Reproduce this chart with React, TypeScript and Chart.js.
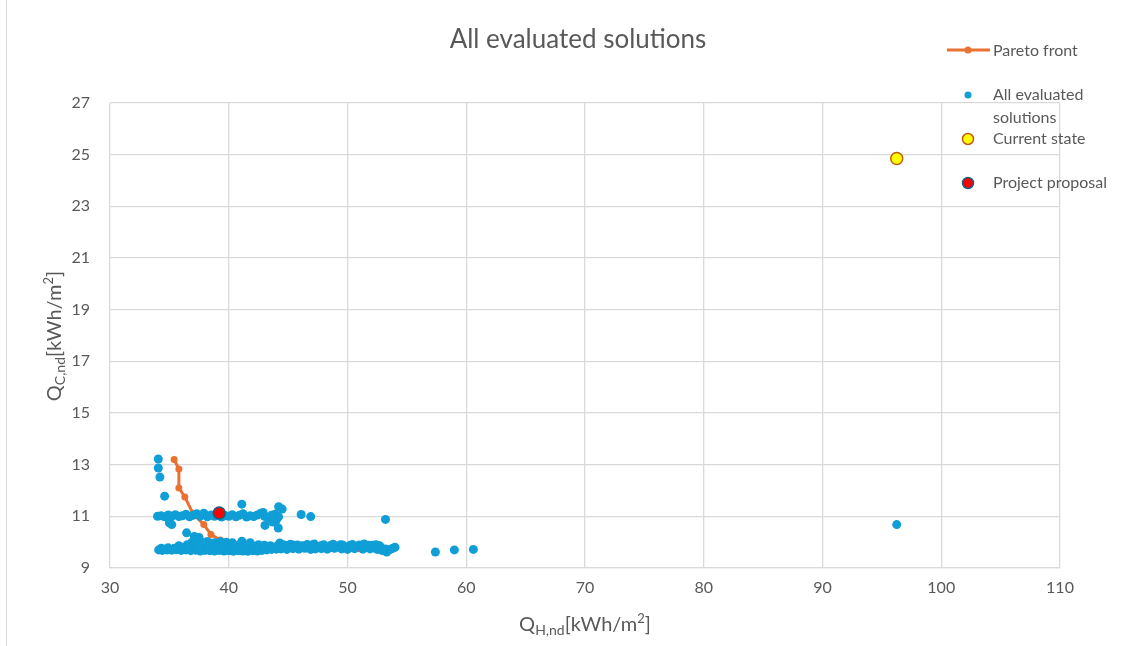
import React, { useEffect, useRef } from "react";
import { Chart, registerables } from "chart.js";

Chart.register(...registerables);

const TITLE = "All evaluated solutions";
const xTicks = [30, 40, 50, 60, 70, 80, 90, 100, 110];
const yTicks = [9, 11, 13, 15, 17, 19, 21, 23, 25, 27];

const paretoX = [35.4, 35.8, 35.8, 36.3, 37.0, 37.9, 38.5, 39.3, 40.3, 41.5, 43.0, 45.0, 47.0, 49.0, 51.0];
const paretoY = [13.2, 12.83, 12.1, 11.75, 11.1, 10.68, 10.3, 10.08, 9.92, 9.85, 9.82, 9.8, 9.8, 9.78, 9.75];

// All evaluated solutions (x = Q_H,nd, y = Q_C,nd)
const allX = [
  // lower band, bottom row
  34.1, 34.4, 34.8, 35.2, 35.6, 36.0, 36.4, 36.8, 37.2, 37.6, 38.0, 38.4, 38.8, 39.2, 39.6, 40.0, 40.4, 40.8, 41.2, 41.6, 42.0, 42.4, 42.8, 43.2, 43.6, 44.0,
  // lower band, middle row
  34.3, 34.9, 35.5, 36.1, 36.7, 37.3, 37.9, 38.5, 39.1, 39.7, 40.3, 40.9, 41.5, 42.1, 42.7, 43.3, 43.9, 44.5, 45.1, 45.7, 46.3, 46.9, 47.5, 48.1, 48.7, 49.3, 49.9, 50.5, 51.1, 51.7, 52.3, 52.8, 53.2, 53.5, 53.8, 54.0, 53.3, 52.9,
  // lower band, upper row
  35.8, 36.5, 37.0, 37.5, 38.0, 38.6, 39.0, 39.5, 40.0, 40.5, 41.0, 41.5, 42.0, 42.5, 43.0, 43.5, 44.2, 44.8, 45.5, 46.2, 47.0, 47.8, 48.6, 49.4, 50.2, 51.0, 51.8, 52.4,
  // lower band, top row
  36.9, 37.2, 37.7, 38.2, 38.8, 39.3, 39.8, 40.3, 41.1, 41.8, 44.3, 37.1, 37.5,
  // lower band, extra fill
  44.4, 44.9, 45.4, 45.9, 46.4, 46.9, 47.3, 47.8, 48.3, 48.9, 49.5, 50.0, 50.6, 51.3, 51.9, 52.5, 53.0, 53.6,
  44.6, 45.2, 45.8, 46.6, 47.2, 48.0, 48.8, 49.6, 50.4, 51.4, 52.1, 52.7,
  34.6, 35.0, 35.4, 35.9, 36.3, 36.6, 37.4, 38.3, 39.4, 40.6, 41.4, 42.3, 43.1, 43.8,
  // upper band
  34.0, 34.3, 34.6, 34.9, 35.2, 35.5, 35.8, 36.1, 36.4, 36.7, 37.0, 37.3, 37.6, 37.9, 38.2, 38.5, 38.8, 39.1, 39.4, 39.7, 40.0, 40.3, 40.6, 40.9, 41.2, 41.5, 41.8, 42.1, 42.4, 42.7, 43.0, 43.3, 43.6, 43.9, 44.2, 44.0, 43.7, 42.9, 35.0,
  // scattered
  34.07, 34.07, 34.2, 34.6, 41.1, 44.2, 44.5, 46.1, 46.9, 53.2, 35.2, 36.45, 43.05, 44.17, 57.4, 59.0, 60.6, 96.25,
];
const allY = [
  9.70, 9.68, 9.70, 9.69, 9.71, 9.68, 9.70, 9.67, 9.69, 9.66, 9.68, 9.67, 9.66, 9.68, 9.66, 9.67, 9.65, 9.67, 9.66, 9.65, 9.67, 9.66, 9.68, 9.70, 9.72, 9.73,
  9.76, 9.78, 9.75, 9.79, 9.80, 9.78, 9.82, 9.80, 9.78, 9.81, 9.79, 9.77, 9.80, 9.78, 9.76, 9.79, 9.81, 9.80, 9.82, 9.79, 9.81, 9.78, 9.80, 9.82, 9.79, 9.81, 9.78, 9.80, 9.82, 9.79, 9.77, 9.80, 9.74, 9.70, 9.76, 9.80, 9.62, 9.68,
  9.86, 9.90, 9.88, 9.92, 9.90, 9.95, 9.88, 9.92, 9.90, 9.87, 9.93, 9.89, 9.86, 9.90, 9.88, 9.86, 9.89, 9.87, 9.88, 9.86, 9.89, 9.87, 9.88, 9.90, 9.87, 9.89, 9.88, 9.90,
  10.00, 10.05, 10.00, 10.03, 9.98, 10.02, 10.00, 9.98, 10.04, 9.98, 9.97, 10.22, 10.18,
  9.74, 9.72, 9.75, 9.73, 9.76, 9.72, 9.74, 9.75, 9.73, 9.76, 9.74, 9.72, 9.75, 9.73, 9.74, 9.72, 9.70, 9.72,
  9.90, 9.92, 9.89, 9.91, 9.93, 9.90, 9.92, 9.89, 9.91, 9.93, 9.88, 9.86,
  9.74, 9.72, 9.76, 9.73, 9.75, 9.78, 9.74, 9.73, 9.75, 9.72, 9.74, 9.73, 9.75, 9.76,
  11.00, 11.02, 10.98, 11.05, 11.00, 11.06, 10.99, 11.02, 11.08, 10.98, 11.04, 11.10, 11.00, 11.12, 10.98, 11.05, 11.00, 11.08, 10.97, 11.03, 11.00, 11.06, 10.98, 11.04, 11.10, 10.97, 11.02, 10.99, 11.05, 11.12, 11.00, 10.95, 11.04, 11.08, 10.98, 10.85, 10.78, 11.15, 10.75,
  13.22, 12.87, 12.52, 11.78, 11.47, 11.37, 11.28, 11.07, 10.99, 10.88, 10.68, 10.36, 10.65, 10.55, 9.62, 9.70, 9.72, 10.68,
];

const currentX = [96.25];
const currentY = [24.85];
const proposalX = [39.2];
const proposalY = [11.13];

const toPts = (xs: number[], ys: number[]) => xs.map((x, i) => ({ x, y: ys[i] }));

const FONT = "Lato, 'Open Sans', sans-serif";
const TXT = "#595959";
const BLUE = "#0F9ED5";
const ORANGE = "#E97132";

const decorPlugin = {
  id: "decor",
  beforeDraw(chart: any) {
    const ctx = chart.ctx;
    ctx.save();
    ctx.fillStyle = "#ffffff";
    ctx.fillRect(0, 0, chart.width, chart.height);
    ctx.strokeStyle = "#d9d9d9";
    ctx.lineWidth = 1;
    ctx.beginPath();
    ctx.moveTo(6.5, 0);
    ctx.lineTo(6.5, chart.height);
    ctx.stroke();
    ctx.restore();
  },
  afterDraw(chart: any) {
    const ctx = chart.ctx;
    ctx.save();
    ctx.fillStyle = TXT;
    // title
    ctx.font = `26px ${FONT}`;
    ctx.textAlign = "center";
    ctx.textBaseline = "middle";
    ctx.fillText(TITLE, 578, 40);

    // axis title helper with subscript and superscript
    const drawRich = (parts: { t: string; s: number; dy: number }[], cx: number, cy: number, rot: number) => {
      ctx.save();
      ctx.translate(cx, cy);
      ctx.rotate(rot);
      let w = 0;
      for (const p of parts) {
        ctx.font = `${p.s}px ${FONT}`;
        w += ctx.measureText(p.t).width;
      }
      let x = -w / 2;
      ctx.textAlign = "left";
      ctx.textBaseline = "alphabetic";
      for (const p of parts) {
        ctx.font = `${p.s}px ${FONT}`;
        ctx.fillText(p.t, x, p.dy);
        x += ctx.measureText(p.t).width;
      }
      ctx.restore();
    };
    drawRich(
      [
        { t: "Q", s: 20, dy: 7 },
        { t: "H,nd", s: 14, dy: 11 },
        { t: "[kWh/m", s: 20, dy: 7 },
        { t: "2", s: 13, dy: -1 },
        { t: "]", s: 20, dy: 7 },
      ],
      585,
      624,
      0
    );
    drawRich(
      [
        { t: "Q", s: 20, dy: 7 },
        { t: "C,nd", s: 14, dy: 11 },
        { t: "[kWh/m", s: 20, dy: 7 },
        { t: "2", s: 13, dy: -1 },
        { t: "]", s: 20, dy: 7 },
      ],
      54,
      336,
      -Math.PI / 2
    );

    // legend
    const lx = 968;
    ctx.font = `16px ${FONT}`;
    ctx.textAlign = "left";
    ctx.textBaseline = "middle";
    ctx.strokeStyle = ORANGE;
    ctx.lineWidth = 3;
    ctx.beginPath();
    ctx.moveTo(947, 50);
    ctx.lineTo(990, 50);
    ctx.stroke();
    ctx.fillStyle = ORANGE;
    ctx.beginPath();
    ctx.arc(lx, 50, 3.5, 0, Math.PI * 2);
    ctx.fill();
    ctx.fillStyle = TXT;
    ctx.fillText("Pareto front", 993, 51);

    ctx.fillStyle = BLUE;
    ctx.beginPath();
    ctx.arc(lx, 95, 3.5, 0, Math.PI * 2);
    ctx.fill();
    ctx.fillStyle = TXT;
    ctx.fillText("All evaluated", 993, 95);
    ctx.fillText("solutions", 993, 118);

    ctx.fillStyle = "#FFFF00";
    ctx.strokeStyle = "#C55A11";
    ctx.lineWidth = 1.5;
    ctx.beginPath();
    ctx.arc(lx, 139, 5.5, 0, Math.PI * 2);
    ctx.fill();
    ctx.stroke();
    ctx.fillStyle = TXT;
    ctx.fillText("Current state", 993, 139);

    ctx.fillStyle = "#FF0000";
    ctx.strokeStyle = "#156082";
    ctx.beginPath();
    ctx.arc(lx, 183, 5.5, 0, Math.PI * 2);
    ctx.fill();
    ctx.stroke();
    ctx.fillStyle = TXT;
    ctx.fillText("Project proposal", 993, 183);
    ctx.restore();
  },
};

export default function App() {
  const ref = useRef<HTMLCanvasElement | null>(null);
  useEffect(() => {
    const canvas = ref.current;
    if (!canvas) return;
    const chart = new Chart(canvas, {
      type: "scatter",
      data: {
        datasets: [
          {
            label: "Project proposal",
            data: toPts(proposalX, proposalY),
            backgroundColor: "#FF0000",
            borderColor: "#156082",
            borderWidth: 1.5,
            pointRadius: 6,
          },
          {
            label: "Current state",
            data: toPts(currentX, currentY),
            backgroundColor: "#FFFF00",
            borderColor: "#C55A11",
            borderWidth: 1.5,
            pointRadius: 6,
          },
          {
            label: "All evaluated solutions",
            data: toPts(allX, allY),
            backgroundColor: BLUE,
            borderColor: BLUE,
            borderWidth: 0,
            pointRadius: 4.5,
          },
          {
            label: "Pareto front",
            type: "line",
            data: toPts(paretoX, paretoY),
            showLine: true,
            backgroundColor: ORANGE,
            borderColor: ORANGE,
            borderWidth: 3,
            pointRadius: 3.5,
            pointBorderWidth: 0,
            tension: 0,
            fill: false,
          } as any,
        ],
      },
      options: {
        responsive: false,
        animation: false,
        layout: { padding: { left: 0, top: 103, right: 81, bottom: 38 } },
        plugins: {
          legend: { display: false },
          title: { display: false },
          tooltip: { enabled: false },
        },
        scales: {
          x: {
            type: "linear",
            min: 30,
            max: 110,
            afterBuildTicks: (s: any) => {
              s.ticks = xTicks.map((v) => ({ value: v }));
            },
            afterFit: (s: any) => {
              s.height = 40;
            },
            grid: { color: "#d9d9d9", lineWidth: 1.3, drawTicks: false },
            border: { color: "#d9d9d9", width: 1.3 },
            ticks: { color: TXT, font: { family: FONT, size: 16 }, padding: 10 },
          },
          y: {
            type: "linear",
            min: 9,
            max: 27,
            afterBuildTicks: (s: any) => {
              s.ticks = yTicks.map((v) => ({ value: v }));
            },
            afterFit: (s: any) => {
              s.width = 110;
            },
            grid: { color: "#d9d9d9", lineWidth: 1.3, drawTicks: false },
            border: { display: false },
            ticks: { color: TXT, font: { family: FONT, size: 16 }, padding: 20 },
          },
        },
      },
      plugins: [decorPlugin],
    });
    return () => chart.destroy();
  }, []);
  return (
    <div style={{ position: "fixed", left: 0, top: 0, width: 1141, height: 646, background: "#fff" }}>
      <canvas ref={ref} width={1141} height={646} style={{ display: "block", width: 1141, height: 646 }} />
    </div>
  );
}
